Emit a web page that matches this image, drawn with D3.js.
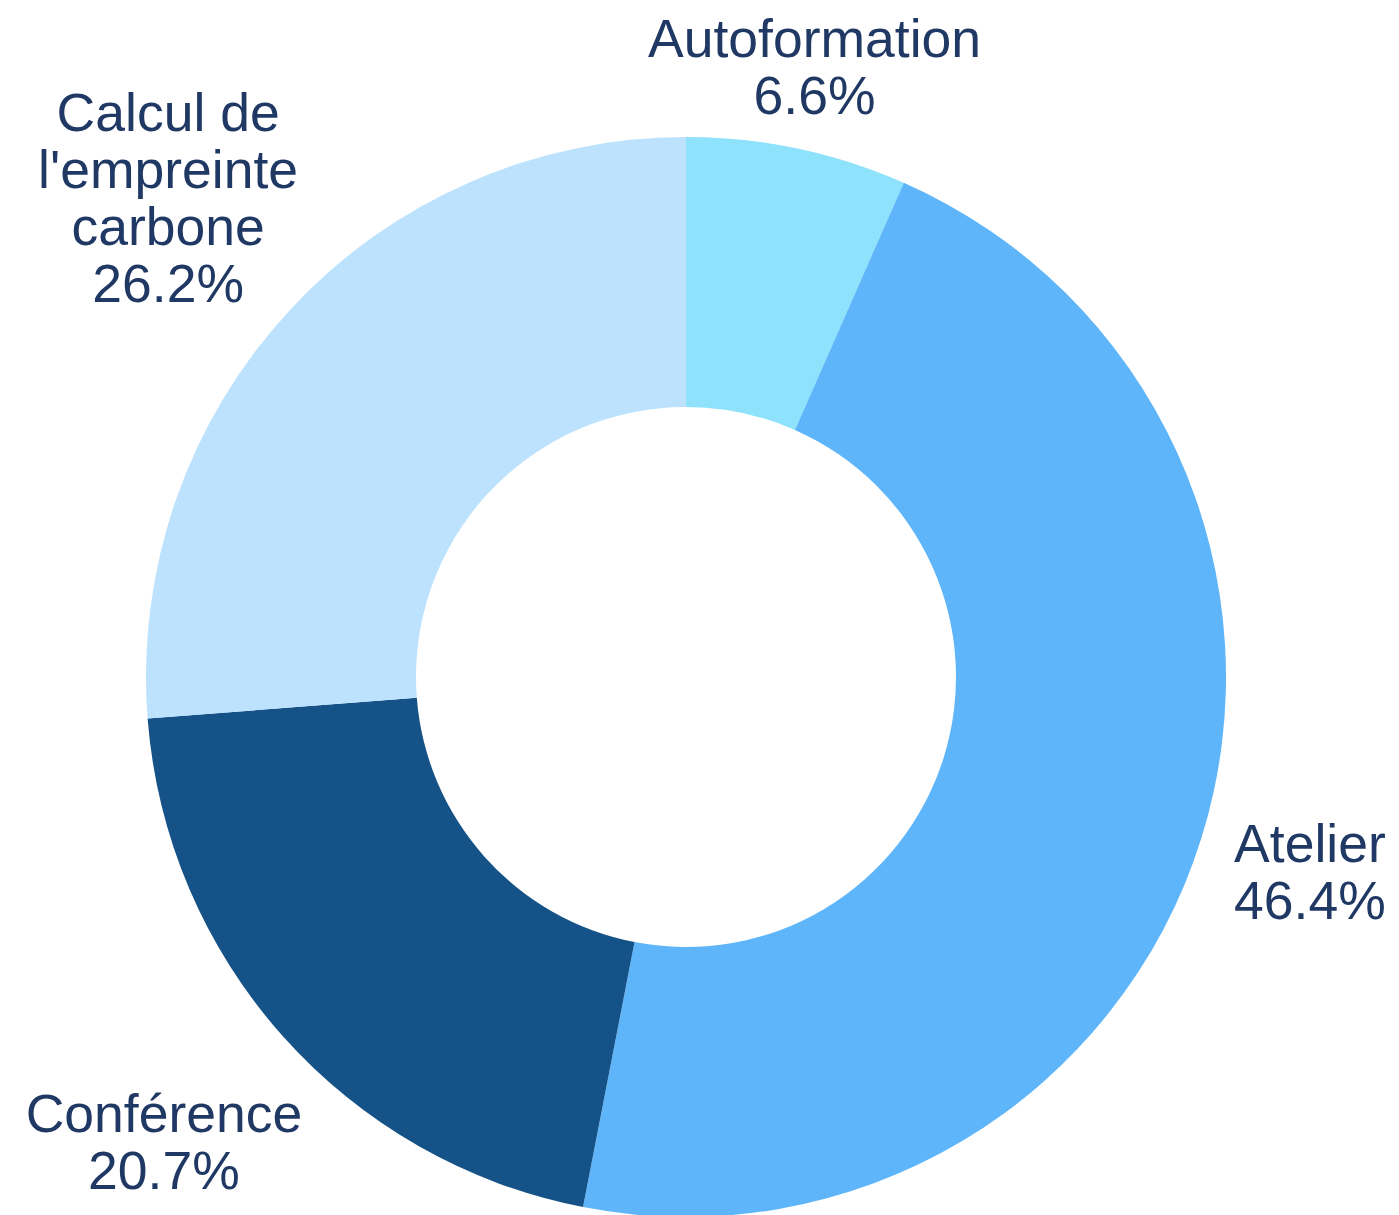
<!DOCTYPE html>
<html>
<head>
<meta charset="utf-8">
<script src="https://cdn.jsdelivr.net/npm/d3@7"></script>
<style>
  body { margin: 0; background: #fff; }
  svg { display: block; }
</style>
</head>
<body>
<div id="chart"></div>
<script>
const labels = ["Autoformation", "Atelier", "Conférence", "Calcul de l'empreinte carbone"];
const labelLines = [["Autoformation"], ["Atelier"], ["Conférence"], ["Calcul de", "l'empreinte", "carbone"]];
const values = [6.6, 46.4, 20.7, 26.2];
const colors = ["#8ee2fc", "#5eb5f9", "#155287", "#bde2fe"];

const width = 1399, height = 1215;
const cx = 686, cy = 677;
const outerR = 540, innerR = 270;
const fontSize = 53.5, lineH = 57;

const svg = d3.select("#chart").append("svg")
    .attr("width", width)
    .attr("height", height);

const g = svg.append("g")
    .attr("transform", `translate(${cx}, ${cy})`);

const pie = d3.pie().sort(null).value(d => d.value);
const arc = d3.arc().innerRadius(innerR).outerRadius(outerR);

const data = labels.map((l, i) => ({label: l, lines: labelLines[i], value: values[i], color: colors[i]}));
const arcs = pie(data);

g.selectAll("path")
    .data(arcs)
    .enter().append("path")
        .attr("d", arc)
        .attr("fill", d => d.data.color);

// labels outside, centred on the mid-angle ray
const total = d3.sum(values);
const labelG = g.selectAll("g.lbl")
    .data(arcs)
    .enter().append("g")
        .attr("class", "lbl");

const text = labelG.append("text")
    .attr("font-family", "Liberation Sans, Arial, sans-serif")
    .attr("font-size", fontSize)
    .attr("fill", "#1f3864")
    .attr("text-anchor", "middle");

text.each(function(d) {
    const t = d3.select(this);
    const lines = d.data.lines.concat([(d.value / total * 100).toFixed(1) + "%"]);
    lines.forEach((s, i) => {
        t.append("tspan")
            .attr("x", 0)
            .attr("y", i * lineH)
            .text(s);
    });
});

labelG.each(function(d) {
    const node = d3.select(this).select("text").node();
    const bb = node.getBBox();
    const a = (d.startAngle + d.endAngle) / 2;
    const sx = Math.sin(a), sy = -Math.cos(a);
    // push the box out along the ray, more for wide boxes than tall ones
    const push = 20 + 1.2 * Math.abs(bb.width / 2 * sx) + 0.4 * Math.abs(bb.height / 2 * sy);
    const r = outerR + push;
    const px = r * sx, py = r * sy;
    const bcx = bb.x + bb.width / 2, bcy = bb.y + bb.height / 2;
    d3.select(this).attr("transform", `translate(${px - bcx}, ${py - bcy})`);
});
</script>
</body>
</html>
